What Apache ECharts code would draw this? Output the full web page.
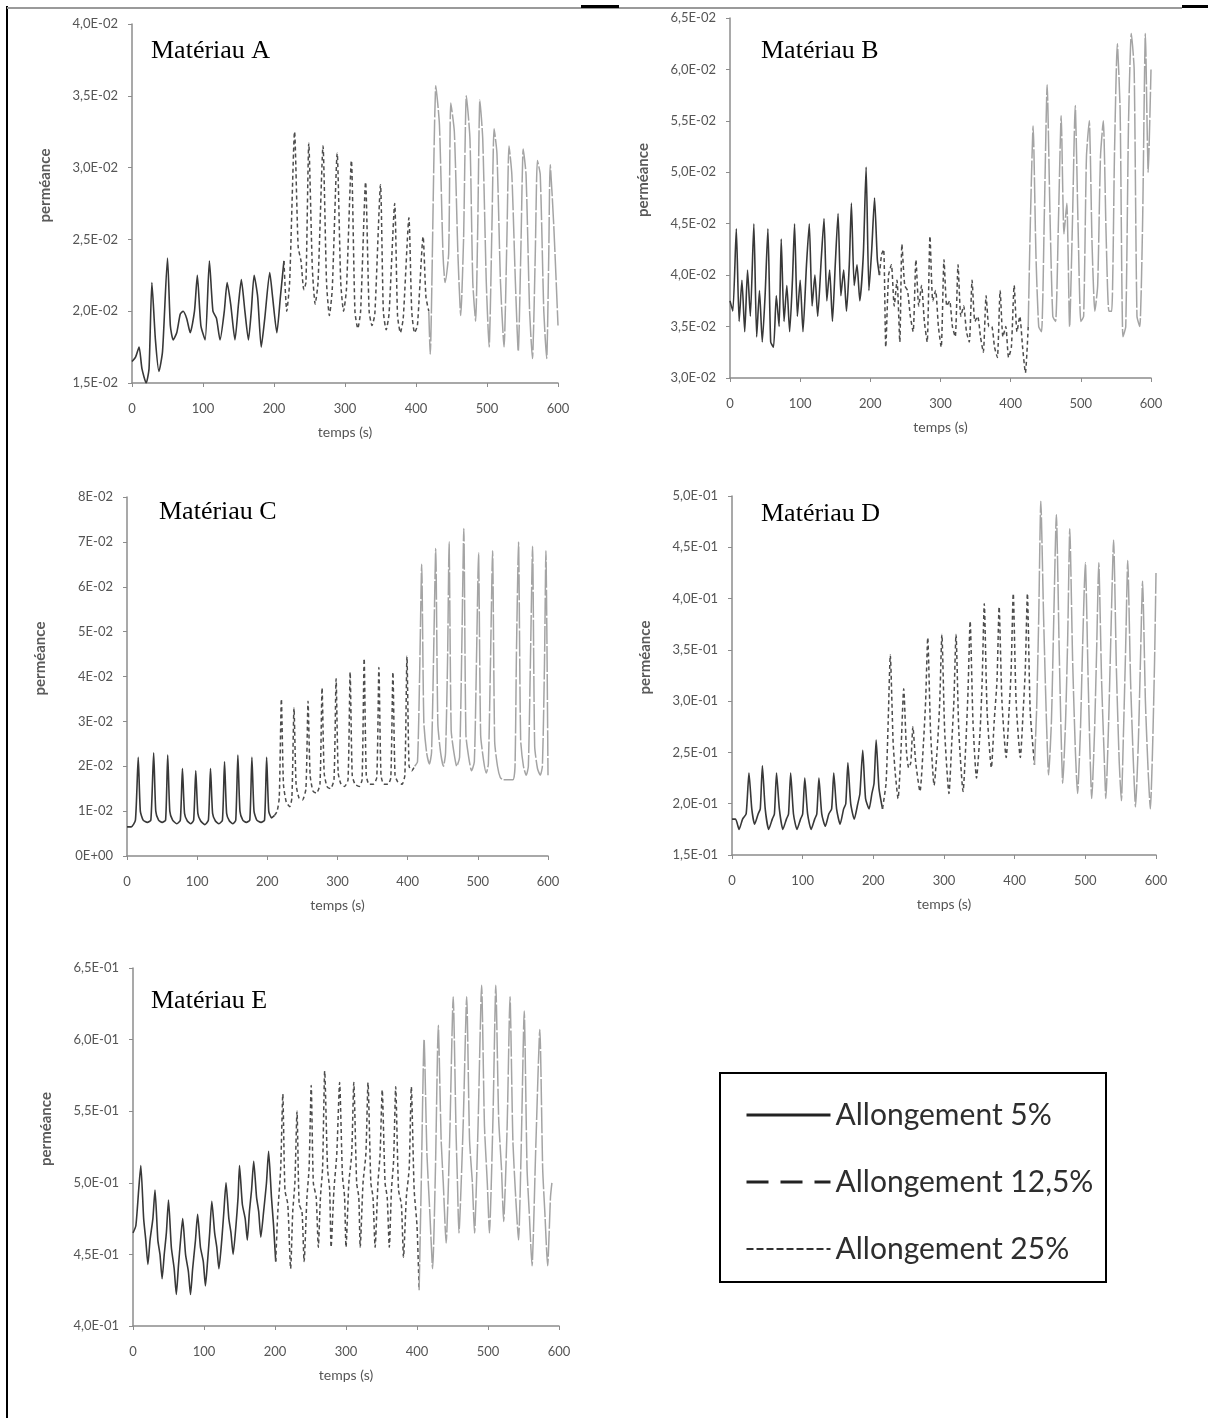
<!DOCTYPE html>
<html>
<head>
<meta charset="utf-8">
<title>Perméance - matériaux A à E</title>
<script src="https://cdn.jsdelivr.net/npm/echarts@6.0.0/dist/echarts.min.js"></script>
<style>
html, body { margin: 0; padding: 0; background: #fff; }
#chart { width: 1208px; height: 1418px; }
</style>
</head>
<body>
<div id="chart"></div>
<script>
// tick labels
const xTickLabels = ['0', '100', '200', '300', '400', '500', '600'];
const yLabelsA = ['1,5E-02', '2,0E-02', '2,5E-02', '3,0E-02', '3,5E-02', '4,0E-02'];
const yLabelsB = ['3,0E-02', '3,5E-02', '4,0E-02', '4,5E-02', '5,0E-02', '5,5E-02', '6,0E-02', '6,5E-02'];
const yLabelsC = ['0E+00', '1E-02', '2E-02', '3E-02', '4E-02', '5E-02', '6E-02', '7E-02', '8E-02'];
const yLabelsD = ['1,5E-01', '2,0E-01', '2,5E-01', '3,0E-01', '3,5E-01', '4,0E-01', '4,5E-01', '5,0E-01'];
const yLabelsE = ['4,0E-01', '4,5E-01', '5,0E-01', '5,5E-01', '6,0E-01', '6,5E-01'];

const seriesNames = ['Allongement 5%', 'Allongement 12,5%', 'Allongement 25%'];
const panelTitles = ['Matériau A', 'Matériau B', 'Matériau C', 'Matériau D', 'Matériau E'];

// [temps (s), perméance]
const matA_5 = [[0,0.0165],[5,0.0168],[10,0.0175],[14,0.0160],[20,0.0150],[24,0.0160],[28,0.0220],[33,0.0180],[38,0.0158],[43,0.0172],[50,0.0237],[54,0.0190],[58,0.0180],[63,0.0185],[68,0.0198],[72,0.0200],[77,0.0195],[82,0.0185],[88,0.0200],[92,0.0225],[97,0.0190],[103,0.0180],[109,0.0235],[114,0.0200],[119,0.0195],[124,0.0180],[130,0.0200],[134,0.0220],[139,0.0205],[145,0.0180],[150,0.0205],[154,0.0222],[159,0.0200],[164,0.0180],[168,0.0200],[172,0.0225],[177,0.0210],[182,0.0175],[187,0.0195],[194,0.0227],[198,0.0210],[204,0.0185],[209,0.0210],[214,0.0235]];
const matA_12 = [[214,0.0235],[218,0.0200],[222,0.0220],[229,0.0325],[234,0.0245],[238,0.0235],[242,0.0215],[245,0.0220],[249,0.0317],[254,0.0230],[258,0.0205],[262,0.0220],[269,0.0315],[274,0.0220],[278,0.0197],[282,0.0215],[289,0.0310],[294,0.0220],[298,0.0200],[302,0.0215],[309,0.0305],[314,0.0200],[318,0.0188],[322,0.0200],[329,0.0290],[334,0.0200],[338,0.0190],[342,0.0198],[350,0.0288],[354,0.0200],[358,0.0187],[362,0.0198],[370,0.0275],[374,0.0197],[378,0.0185],[382,0.0195],[390,0.0265],[394,0.0200],[398,0.0185],[402,0.0190],[410,0.0252],[414,0.0210],[418,0.0200]];
const matA_25 = [[418,0.0200],[420,0.0170],[428,0.0357],[433,0.0330],[438,0.0240],[441,0.0220],[446,0.0240],[449,0.0345],[454,0.0325],[459,0.0240],[463,0.0197],[467,0.0250],[471,0.0350],[476,0.0320],[480,0.0220],[484,0.0193],[487,0.0260],[490,0.0347],[494,0.0320],[499,0.0220],[503,0.0175],[507,0.0260],[510,0.0327],[514,0.0310],[519,0.0220],[524,0.0175],[528,0.0250],[531,0.0315],[535,0.0295],[540,0.0220],[544,0.0172],[548,0.0250],[551,0.0313],[555,0.0295],[560,0.0200],[564,0.0167],[568,0.0240],[571,0.0305],[575,0.0295],[580,0.0200],[584,0.0167],[587,0.0240],[589,0.0302],[594,0.0260],[600,0.0190]];

const matB_5 = [[0,0.0375],[4,0.0365],[9,0.0445],[13,0.0355],[17,0.0395],[21,0.0345],[25,0.0405],[29,0.0360],[34,0.0450],[38,0.0340],[42,0.0385],[46,0.0335],[50,0.0380],[54,0.0445],[58,0.0335],[62,0.0330],[66,0.0380],[70,0.0350],[73,0.0435],[77,0.0355],[81,0.0390],[85,0.0345],[89,0.0395],[92,0.0450],[96,0.0360],[100,0.0395],[104,0.0345],[109,0.0410],[113,0.0450],[117,0.0370],[121,0.0400],[125,0.0360],[130,0.0415],[134,0.0455],[138,0.0375],[142,0.0405],[146,0.0355],[150,0.0410],[154,0.0460],[158,0.0380],[162,0.0405],[166,0.0365],[170,0.0410],[173,0.0470],[177,0.0390],[181,0.0410],[185,0.0375],[190,0.0420],[194,0.0505],[198,0.0385],[202,0.0425],[206,0.0475],[210,0.0415],[213,0.0400]];
const matB_12 = [[213,0.0400],[216,0.0420],[219,0.0425],[222,0.0330],[226,0.0400],[230,0.0410],[234,0.0370],[238,0.0395],[242,0.0335],[245,0.0430],[249,0.0390],[253,0.0385],[257,0.0360],[261,0.0345],[265,0.0415],[269,0.0370],[273,0.0390],[277,0.0355],[281,0.0335],[285,0.0438],[289,0.0375],[293,0.0385],[297,0.0350],[301,0.0330],[305,0.0415],[309,0.0370],[313,0.0375],[317,0.0350],[321,0.0340],[325,0.0410],[329,0.0360],[333,0.0370],[337,0.0345],[341,0.0335],[345,0.0395],[349,0.0355],[353,0.0360],[357,0.0340],[361,0.0325],[365,0.0380],[369,0.0350],[373,0.0350],[377,0.0330],[381,0.0320],[385,0.0385],[389,0.0340],[393,0.0350],[397,0.0320],[401,0.0330],[405,0.0390],[409,0.0345],[413,0.0360],[417,0.0330],[421,0.0305],[425,0.0350]];
const matB_25 = [[425,0.0350],[428,0.0450],[432,0.0545],[436,0.0420],[440,0.0350],[444,0.0345],[448,0.0460],[452,0.0585],[456,0.0460],[460,0.0360],[464,0.0355],[468,0.0450],[472,0.0555],[476,0.0440],[480,0.0470],[484,0.0350],[488,0.0450],[492,0.0565],[496,0.0450],[500,0.0355],[504,0.0360],[508,0.0515],[512,0.0550],[516,0.0430],[520,0.0365],[524,0.0390],[528,0.0515],[532,0.0550],[536,0.0440],[540,0.0365],[544,0.0365],[548,0.0520],[552,0.0625],[556,0.0560],[560,0.0340],[564,0.0350],[568,0.0550],[572,0.0635],[576,0.0600],[580,0.0360],[584,0.0350],[588,0.0450],[592,0.0635],[596,0.0500],[600,0.0600]];

const matC_5 = [[0,0.0065],[6,0.0065],[12,0.0080],[16,0.0220],[19,0.0100],[23,0.0080],[29,0.0075],[34,0.0080],[38,0.0230],[41,0.0100],[45,0.0080],[50,0.0075],[55,0.0080],[58,0.0225],[61,0.0100],[65,0.0080],[71,0.0072],[76,0.0080],[79,0.0195],[82,0.0095],[86,0.0078],[91,0.0072],[95,0.0080],[98,0.0190],[101,0.0095],[105,0.0078],[111,0.0070],[116,0.0080],[119,0.0195],[122,0.0095],[126,0.0078],[131,0.0072],[136,0.0080],[139,0.0210],[142,0.0095],[146,0.0078],[151,0.0072],[155,0.0080],[158,0.0225],[161,0.0100],[165,0.0080],[170,0.0075],[175,0.0080],[178,0.0220],[181,0.0100],[185,0.0080],[191,0.0075],[196,0.0080],[199,0.0220],[202,0.0100],[206,0.0085],[210,0.0090]];
const matC_12 = [[210,0.0090],[214,0.0100],[217,0.0130],[220,0.0350],[223,0.0160],[227,0.0120],[232,0.0110],[235,0.0130],[238,0.0330],[241,0.0160],[245,0.0130],[250,0.0125],[255,0.0150],[258,0.0345],[261,0.0180],[265,0.0145],[270,0.0140],[275,0.0160],[278,0.0375],[281,0.0185],[285,0.0155],[290,0.0150],[295,0.0170],[298,0.0395],[301,0.0185],[305,0.0160],[310,0.0155],[315,0.0170],[318,0.0410],[321,0.0180],[325,0.0160],[331,0.0155],[335,0.0170],[338,0.0440],[341,0.0180],[345,0.0160],[351,0.0160],[356,0.0175],[359,0.0420],[362,0.0180],[366,0.0160],[372,0.0160],[376,0.0175],[379,0.0410],[382,0.0180],[386,0.0165],[392,0.0160],[396,0.0180],[399,0.0445],[402,0.0200],[406,0.0190],[410,0.0200]];
const matC_25 = [[410,0.0200],[414,0.0210],[417,0.0400],[420,0.0650],[423,0.0300],[427,0.0230],[431,0.0205],[434,0.0230],[437,0.0450],[440,0.0685],[443,0.0295],[447,0.0230],[451,0.0200],[454,0.0230],[457,0.0450],[459,0.0700],[462,0.0280],[466,0.0230],[470,0.0200],[474,0.0220],[477,0.0450],[480,0.0730],[483,0.0270],[487,0.0220],[491,0.0190],[495,0.0210],[498,0.0430],[501,0.0675],[504,0.0270],[508,0.0215],[512,0.0185],[515,0.0205],[518,0.0430],[521,0.0680],[524,0.0255],[528,0.0200],[532,0.0175],[536,0.0170],[550,0.0170],[553,0.0200],[555,0.0450],[558,0.0700],[561,0.0260],[565,0.0200],[569,0.0180],[572,0.0200],[575,0.0440],[578,0.0690],[581,0.0245],[585,0.0195],[589,0.0180],[592,0.0200],[595,0.0430],[597,0.0680],[600,0.0180]];

const matD_5 = [[0,0.185],[5,0.185],[10,0.175],[15,0.185],[20,0.190],[24,0.230],[28,0.195],[32,0.180],[37,0.190],[40,0.195],[43,0.237],[47,0.195],[52,0.175],[57,0.185],[60,0.190],[63,0.230],[67,0.195],[72,0.175],[77,0.185],[80,0.190],[83,0.230],[87,0.190],[92,0.175],[97,0.185],[100,0.190],[103,0.225],[107,0.190],[112,0.175],[117,0.185],[120,0.190],[123,0.225],[127,0.190],[132,0.178],[137,0.190],[141,0.195],[144,0.230],[148,0.195],[153,0.180],[158,0.195],[161,0.200],[164,0.240],[168,0.200],[173,0.185],[178,0.200],[181,0.210],[185,0.252],[189,0.205],[194,0.195],[198,0.210],[201,0.220],[204,0.262],[208,0.215],[213,0.195]];
const matD_12 = [[213,0.195],[218,0.220],[221,0.280],[224,0.345],[228,0.260],[231,0.230],[235,0.205],[239,0.250],[243,0.312],[247,0.250],[250,0.235],[253,0.240],[256,0.275],[260,0.240],[266,0.212],[271,0.260],[274,0.300],[277,0.362],[281,0.270],[286,0.218],[291,0.260],[294,0.300],[297,0.365],[301,0.270],[307,0.210],[311,0.260],[314,0.300],[317,0.365],[321,0.270],[327,0.212],[331,0.260],[334,0.310],[337,0.378],[341,0.280],[346,0.225],[351,0.270],[354,0.320],[357,0.395],[361,0.290],[367,0.235],[371,0.280],[375,0.320],[378,0.392],[382,0.300],[388,0.245],[392,0.290],[395,0.330],[398,0.405],[402,0.300],[408,0.245],[412,0.290],[415,0.330],[418,0.405],[422,0.290],[428,0.238]];
const matD_25 = [[428,0.238],[431,0.290],[434,0.380],[437,0.495],[441,0.380],[445,0.280],[448,0.228],[452,0.280],[455,0.370],[459,0.482],[463,0.350],[466,0.260],[468,0.220],[472,0.280],[475,0.360],[478,0.468],[482,0.340],[486,0.250],[489,0.210],[493,0.270],[496,0.350],[500,0.435],[504,0.320],[507,0.240],[509,0.205],[513,0.270],[516,0.350],[519,0.435],[523,0.320],[527,0.240],[529,0.205],[533,0.280],[536,0.360],[540,0.457],[544,0.330],[548,0.240],[551,0.203],[554,0.270],[557,0.350],[560,0.437],[564,0.320],[568,0.240],[571,0.197],[575,0.260],[578,0.340],[581,0.417],[585,0.300],[589,0.230],[592,0.195],[595,0.250],[598,0.340],[600,0.425]];

const matE_5 = [[0,0.465],[4,0.470],[8,0.495],[11,0.512],[15,0.475],[18,0.460],[21,0.443],[24,0.460],[28,0.475],[31,0.495],[35,0.460],[38,0.450],[41,0.433],[44,0.450],[47,0.465],[50,0.488],[54,0.455],[58,0.440],[61,0.422],[64,0.442],[67,0.460],[70,0.475],[74,0.450],[78,0.438],[81,0.422],[84,0.440],[88,0.460],[91,0.478],[95,0.455],[99,0.445],[102,0.428],[105,0.445],[108,0.465],[111,0.487],[115,0.465],[118,0.455],[121,0.440],[125,0.460],[128,0.480],[131,0.500],[135,0.475],[138,0.465],[141,0.450],[145,0.470],[148,0.490],[150,0.512],[154,0.485],[158,0.475],[161,0.460],[164,0.480],[167,0.495],[170,0.515],[174,0.490],[177,0.480],[180,0.462],[184,0.480],[188,0.500],[191,0.522],[195,0.490],[198,0.470],[201,0.445]];
const matE_12 = [[201,0.445],[204,0.480],[208,0.510],[211,0.562],[214,0.495],[218,0.485],[222,0.440],[225,0.480],[228,0.500],[231,0.550],[234,0.485],[238,0.480],[241,0.445],[245,0.490],[248,0.510],[251,0.568],[254,0.500],[258,0.490],[261,0.455],[264,0.490],[267,0.510],[270,0.578],[274,0.510],[277,0.495],[279,0.455],[283,0.495],[287,0.520],[291,0.570],[295,0.505],[298,0.490],[300,0.455],[304,0.500],[308,0.520],[311,0.570],[315,0.500],[318,0.490],[320,0.455],[324,0.500],[328,0.520],[331,0.570],[335,0.500],[338,0.490],[341,0.455],[345,0.500],[348,0.520],[351,0.565],[355,0.500],[358,0.490],[361,0.455],[364,0.495],[367,0.515],[370,0.567],[374,0.495],[378,0.485],[381,0.448],[385,0.490],[389,0.510],[392,0.567],[396,0.495],[400,0.470],[403,0.425]];
const matE_25 = [[403,0.425],[406,0.500],[410,0.600],[414,0.520],[418,0.480],[422,0.440],[426,0.510],[430,0.610],[434,0.530],[437,0.500],[441,0.458],[446,0.530],[451,0.630],[455,0.535],[457,0.500],[459,0.465],[465,0.540],[470,0.630],[474,0.530],[478,0.500],[481,0.465],[486,0.540],[491,0.638],[495,0.540],[499,0.500],[502,0.465],[507,0.545],[511,0.638],[515,0.545],[519,0.510],[522,0.473],[527,0.540],[531,0.630],[535,0.530],[539,0.490],[543,0.460],[547,0.530],[551,0.620],[555,0.510],[558,0.480],[562,0.442],[567,0.520],[573,0.607],[577,0.510],[580,0.480],[584,0.442],[588,0.490],[590,0.500]];

const panels = [
  { title: panelTitles[0], series: [matA_5, matA_12, matA_25], yMin: 0.015, yMax: 0.04, yStep: 0.005, yLabels: yLabelsA,
    grid: { left: 132, top: 24, width: 426, height: 359 }, titlePos: { left: 151, top: 38 } },
  { title: panelTitles[1], series: [matB_5, matB_12, matB_25], yMin: 0.03, yMax: 0.065, yStep: 0.005, yLabels: yLabelsB,
    grid: { left: 730, top: 18, width: 421, height: 360 }, titlePos: { left: 761, top: 38 } },
  { title: panelTitles[2], series: [matC_5, matC_12, matC_25], yMin: 0, yMax: 0.08, yStep: 0.01, yLabels: yLabelsC,
    grid: { left: 127, top: 497, width: 421, height: 359 }, titlePos: { left: 159, top: 499 } },
  { title: panelTitles[3], series: [matD_5, matD_12, matD_25], yMin: 0.15, yMax: 0.5, yStep: 0.05, yLabels: yLabelsD,
    grid: { left: 732, top: 496, width: 424, height: 359 }, titlePos: { left: 761, top: 501 } },
  { title: panelTitles[4], series: [matE_5, matE_12, matE_25], yMin: 0.4, yMax: 0.65, yStep: 0.05, yLabels: yLabelsE,
    grid: { left: 133, top: 968, width: 426, height: 358 }, titlePos: { left: 151, top: 988 } },
];

const lineStyles = [
  { color: '#383838', width: 1.6, type: 'solid' },
  { color: '#4c4c4c', width: 1.5, type: [4, 3] },
  { color: '#a4a4a4', width: 1.5, type: [26, 2] },
];

const axisColor = '#8c8c8c';
const labelFont = 'Lato, "Open Sans", sans-serif';

function tickLabeler(labels, min, step) {
  return (v) => labels[Math.round((v - min) / step)] || '';
}

const option = {
  animation: false,
  backgroundColor: '#fff',
  title: panels.map((p) => ({
    text: p.title,
    left: p.titlePos.left,
    top: p.titlePos.top,
    padding: 0,
    textStyle: { fontFamily: '"Liberation Serif", "Times New Roman", serif', fontSize: 26, fontWeight: 'normal', color: '#000' },
  })),
  grid: panels.map((p) => ({ ...p.grid })),
  xAxis: panels.map((p, i) => ({
    type: 'value',
    gridIndex: i,
    min: 0,
    max: 600,
    interval: 100,
    name: 'temps (s)',
    nameLocation: 'middle',
    nameGap: 42,
    nameTextStyle: { fontFamily: labelFont, fontSize: 14, color: '#555' },
    axisLine: { show: true, lineStyle: { color: axisColor, width: 1.5 } },
    axisTick: { show: true, length: 4, lineStyle: { color: axisColor } },
    axisLabel: { margin: 19, fontFamily: labelFont, fontSize: 13, color: '#555', formatter: tickLabeler(xTickLabels, 0, 100) },
    splitLine: { show: false },
  })),
  yAxis: panels.map((p, i) => ({
    type: 'value',
    gridIndex: i,
    min: p.yMin,
    max: p.yMax,
    interval: p.yStep,
    name: 'perméance',
    nameLocation: 'middle',
    nameGap: 79,
    nameTextStyle: { fontFamily: labelFont, fontSize: 15, fontWeight: 'bold', color: '#5a5a5a', padding: [0, 0, 0, 36] },
    axisLine: { show: true, lineStyle: { color: axisColor, width: 1.5 } },
    axisTick: { show: true, length: 4, lineStyle: { color: axisColor } },
    axisLabel: { margin: 14, fontFamily: labelFont, fontSize: 13, color: '#555', formatter: tickLabeler(p.yLabels, p.yMin, p.yStep) },
    splitLine: { show: false },
  })),
  legend: {
    left: 740,
    top: 1095,
    orient: 'vertical',
    selectedMode: false,
    itemWidth: 84,
    itemHeight: 30,
    itemGap: 37,
    textStyle: { fontFamily: 'Lato, sans-serif', fontSize: 30, color: '#2e2e2e', lineHeight: 30 },
    data: [
      { name: seriesNames[0], itemStyle: { opacity: 0 }, lineStyle: { color: '#222', width: 3, type: 'solid' } },
      { name: seriesNames[1], itemStyle: { opacity: 0 }, lineStyle: { color: '#222', width: 3, type: [22, 12] } },
      { name: seriesNames[2], itemStyle: { opacity: 0 }, lineStyle: { color: '#333', width: 2, type: [7, 3] } },
    ],
  },
  graphic: [
    // table borders of the original page
    { type: 'line', shape: { x1: 7, y1: 6, x2: 7, y2: 1418 }, style: { stroke: '#000', lineWidth: 2 } },
    { type: 'line', shape: { x1: 7, y1: 8, x2: 1182, y2: 8 }, style: { stroke: '#9a9a9a', lineWidth: 2 } },
    { type: 'line', shape: { x1: 581, y1: 6.5, x2: 619, y2: 6.5 }, style: { stroke: '#000', lineWidth: 3 } },
    { type: 'line', shape: { x1: 1182, y1: 6.5, x2: 1208, y2: 6.5 }, style: { stroke: '#000', lineWidth: 3 } },
    // legend frame
    { type: 'rect', shape: { x: 720, y: 1073, width: 386, height: 209 }, style: { fill: 'none', stroke: '#000', lineWidth: 2 } },
  ],
  series: [],
};

panels.forEach((p, i) => {
  p.series.forEach((data, j) => {
    option.series.push({
      name: seriesNames[j],
      type: 'line',
      xAxisIndex: i,
      yAxisIndex: i,
      data: data,
      symbol: 'none',
      showSymbol: false,
      smooth: 0.2,
      lineStyle: lineStyles[j],
      itemStyle: { color: lineStyles[j].color },
    });
  });
});

const chart = echarts.init(document.getElementById('chart'), null, { renderer: 'canvas' });
chart.setOption(option);
</script>
</body>
</html>
